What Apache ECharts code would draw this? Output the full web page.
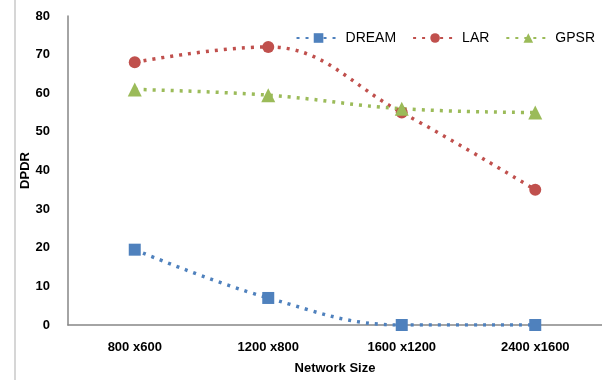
<!DOCTYPE html>
<html>
<head>
<meta charset="utf-8">
<script src="https://cdn.jsdelivr.net/npm/echarts@6/dist/echarts.min.js"></script>
<style>
  html, body { margin: 0; padding: 0; background: #fff; }
  #chart { width: 602px; height: 380px; }
</style>
</head>
<body>
<div id="chart"></div>
<script>
// Network sizes on the x axis
const categories = ['800 x600', '1200 x800', '1600 x1200', '2400 x1600'];
// DPDR per protocol
const dream = [19.5, 7, 0, 0];
const lar = [68, 72, 55, 35];
const gpsr = [61, 59.5, 56, 55];

const FONT = 'Liberation Sans Narrow, Liberation Sans, Arial';
const chart = echarts.init(document.getElementById('chart'), null, { renderer: 'canvas' });

function lineSeries(name, data, color, symbol, size) {
  return {
    name: name,
    type: 'line',
    data: data,
    smooth: 0.4,
    symbol: symbol,
    symbolSize: size,
    showSymbol: true,
    lineStyle: { color: color, width: 3.5, type: [3, 6], cap: 'butt' },
    itemStyle: { color: color },
    emphasis: { disabled: true }
  };
}

chart.setOption({
  animation: false,
  backgroundColor: '#fff',
  grid: { left: 68, top: 16, width: 540, bottom: 55, containLabel: false },
  legend: {
    top: 26,
    right: 2,
    itemWidth: 44,
    itemHeight: 12,
    itemGap: 16,
    textStyle: { fontFamily: FONT, fontSize: 14, color: '#000' },
    data: ['DREAM', 'LAR', 'GPSR']
  },
  xAxis: {
    type: 'category',
    data: categories,
    boundaryGap: true,
    name: 'Network Size',
    nameLocation: 'middle',
    nameGap: 37,
    nameTextStyle: { fontFamily: FONT, fontSize: 13, fontWeight: 'bold', color: '#000' },
    axisLine: { lineStyle: { color: '#868686', width: 1.5 } },
    axisTick: { show: false },
    axisLabel: { fontFamily: FONT, fontSize: 13, fontWeight: 'bold', color: '#000', margin: 16 }
  },
  yAxis: {
    type: 'value',
    min: 0,
    max: 80,
    interval: 10,
    name: 'DPDR',
    nameLocation: 'middle',
    nameGap: 36,
    nameMoveOverlap: false,
    nameRotate: 90,
    nameTextStyle: { fontFamily: FONT, fontSize: 13, fontWeight: 'bold', color: '#000' },
    axisLine: { show: true, lineStyle: { color: '#868686', width: 1.5 } },
    axisTick: { show: false },
    splitLine: { show: false },
    axisLabel: { fontFamily: FONT, fontSize: 13, fontWeight: 'bold', color: '#000', margin: 18 }
  },
  graphic: [{
    type: 'line',
    shape: { x1: 15, y1: 0, x2: 15, y2: 380 },
    style: { stroke: '#c8c8c8', lineWidth: 1.5 }
  }],
  series: [
    lineSeries('DREAM', dream, '#4F81BD', 'rect', 12),
    lineSeries('LAR', lar, '#C0504D', 'circle', 12),
    lineSeries('GPSR', gpsr, '#9BBB59', 'triangle', 14)
  ]
});
</script>
</body>
</html>
